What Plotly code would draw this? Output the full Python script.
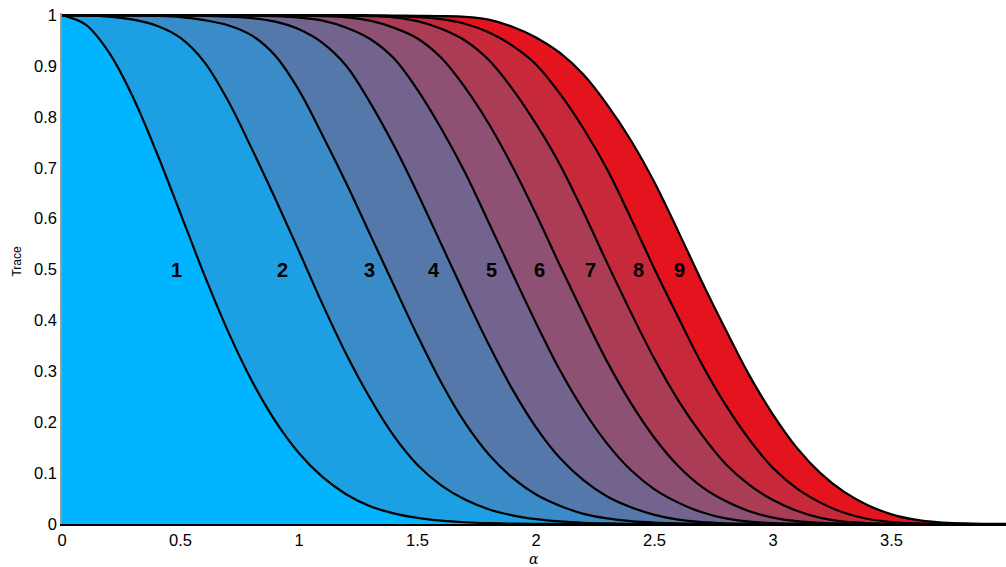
import plotly.graph_objects as go

# alpha grid shared by all curves
alpha = [round(0.1 * i, 1) for i in range(41)]  # 0.0 ... 4.0

# Trace values of the nine curves on the alpha grid
trace_1 = [1.0, 0.981, 0.925, 0.838, 0.729, 0.610, 0.490, 0.379, 0.282, 0.202,
           0.139, 0.092, 0.058, 0.035, 0.021, 0.012, 0.0065, 0.0034, 0.0017, 0.0008,
           0.0004, 0.0002, 0.0001, 0, 0, 0, 0, 0, 0, 0,
           0, 0, 0, 0, 0, 0, 0, 0, 0, 0, 0]
trace_2 = [1.0, 0.9995, 0.997, 0.991, 0.979, 0.955, 0.908, 0.832, 0.738, 0.639,
           0.536, 0.431, 0.333, 0.247, 0.173, 0.116, 0.076, 0.048, 0.029, 0.017,
           0.0095, 0.005, 0.0025, 0.0012, 0.0005, 0.0002, 0.0001, 0, 0, 0,
           0, 0, 0, 0, 0, 0, 0, 0, 0, 0, 0]
trace_3 = [1.0, 1.0, 1.0, 0.9995, 0.9985, 0.996, 0.990, 0.980, 0.960, 0.920,
           0.852, 0.763, 0.669, 0.569, 0.469, 0.370, 0.278, 0.199, 0.137, 0.091,
           0.058, 0.036, 0.020, 0.011, 0.0055, 0.0026, 0.0011, 0.0005, 0.0002, 0.0001,
           0, 0, 0, 0, 0, 0, 0, 0, 0, 0, 0]
trace_4 = [1.0, 1.0, 1.0, 1.0, 1.0, 0.9995, 0.999, 0.997, 0.994, 0.987,
           0.972, 0.945, 0.900, 0.828, 0.744, 0.650, 0.550, 0.450, 0.353, 0.265,
           0.190, 0.130, 0.086, 0.054, 0.033, 0.018, 0.0085, 0.0038, 0.0015, 0.0006,
           0.0002, 0.0001, 0, 0, 0, 0, 0, 0, 0, 0, 0]
trace_5 = [1.0, 1.0, 1.0, 1.0, 1.0, 1.0, 1.0, 0.9995, 0.999, 0.998,
           0.995, 0.989, 0.975, 0.953, 0.915, 0.853, 0.777, 0.691, 0.593, 0.493,
           0.395, 0.303, 0.224, 0.158, 0.106, 0.068, 0.042, 0.023, 0.011, 0.0048,
           0.0019, 0.0007, 0.0003, 0.0001, 0, 0, 0, 0, 0, 0, 0]
trace_6 = [1.0, 1.0, 1.0, 1.0, 1.0, 1.0, 1.0, 1.0, 1.0, 0.9995,
           0.999, 0.998, 0.9955, 0.989, 0.975, 0.954, 0.916, 0.858, 0.787, 0.703,
           0.609, 0.509, 0.412, 0.319, 0.238, 0.169, 0.114, 0.073, 0.045, 0.025,
           0.0125, 0.0055, 0.0023, 0.0009, 0.0003, 0.0001, 0, 0, 0, 0, 0]
trace_7 = [1.0, 1.0, 1.0, 1.0, 1.0, 1.0, 1.0, 1.0, 1.0, 1.0,
           1.0, 0.9995, 0.999, 0.998, 0.9955, 0.988, 0.973, 0.950, 0.912, 0.855,
           0.786, 0.707, 0.613, 0.513, 0.416, 0.324, 0.243, 0.175, 0.118, 0.077,
           0.047, 0.026, 0.012, 0.0045, 0.0016, 0.0006, 0.0002, 0.0001, 0, 0, 0]
trace_8 = [1.0, 1.0, 1.0, 1.0, 1.0, 1.0, 1.0, 1.0, 1.0, 1.0,
           1.0, 1.0, 0.9995, 0.999, 0.998, 0.996, 0.992, 0.983, 0.966, 0.940,
           0.903, 0.846, 0.777, 0.697, 0.601, 0.501, 0.406, 0.314, 0.234, 0.166,
           0.110, 0.070, 0.042, 0.022, 0.0098, 0.0038, 0.0013, 0.0004, 0.0001, 0, 0]
trace_9 = [1.0, 1.0, 1.0, 1.0, 1.0, 1.0, 1.0, 1.0, 1.0, 1.0,
           1.0, 1.0, 1.0, 0.9995, 0.999, 0.9985, 0.998, 0.9965, 0.991, 0.977,
           0.956, 0.926, 0.883, 0.824, 0.754, 0.671, 0.575, 0.476, 0.382, 0.292,
           0.215, 0.150, 0.100, 0.063, 0.037, 0.019, 0.0085, 0.0033, 0.0012, 0.0004, 0.0001]

curves = [trace_1, trace_2, trace_3, trace_4, trace_5, trace_6, trace_7, trace_8, trace_9]

# Fill colour of the band under each curve (light blue -> red)
band_colors = ["#00b4ff", "#1ca0e3", "#398cc7", "#5578ab", "#72648f",
               "#8e5073", "#aa3c56", "#c7283a", "#e3141e"]

# Curve labels and where they sit
label_text = ["1", "2", "3", "4", "5", "6", "7", "8", "9"]
label_alpha = [0.483, 0.932, 1.297, 1.568, 1.814, 2.013, 2.229, 2.432, 2.606]
label_trace = 0.5

x_tick_vals = [0, 0.5, 1, 1.5, 2, 2.5, 3, 3.5]
x_tick_text = ["0", "0.5", "1", "1.5", "2", "2.5", "3", "3.5"]
y_tick_vals = [0, 0.1, 0.2, 0.3, 0.4, 0.5, 0.6, 0.7, 0.8, 0.9, 1]
y_tick_text = ["0", "0.1", "0.2", "0.3", "0.4", "0.5", "0.6", "0.7", "0.8", "0.9", "1"]

FONT = "Liberation Sans, Arial, sans-serif"

fig = go.Figure()
for i, ys in enumerate(curves):
    fig.add_trace(go.Scatter(
        x=alpha, y=ys,
        mode="lines",
        line=dict(color="black", width=2.2, shape="spline", smoothing=1.0),
        fill="tozeroy" if i == 0 else "tonexty",
        fillcolor=band_colors[i],
        hoverinfo="skip",
        showlegend=False,
    ))

for t, a in zip(label_text, label_alpha):
    fig.add_annotation(x=a, y=label_trace, text="<b>%s</b>" % t, showarrow=False,
                       font=dict(family=FONT, size=20, color="black"))

# Axis titles
fig.add_annotation(xref="paper", yref="paper", x=-0.048, y=0.515, text="Trace",
                   textangle=-90, showarrow=False, xanchor="center", yanchor="middle",
                   font=dict(family=FONT, size=12, color="black"))
fig.add_annotation(xref="paper", yref="paper", x=0.5, y=-0.068, text="<i>α</i>",
                   showarrow=False, xanchor="center", yanchor="middle",
                   font=dict(family="DejaVu Serif, serif", size=14, color="black"))

fig.update_layout(
    width=1006, height=567,
    margin=dict(l=62, r=0, t=13, b=43),
    paper_bgcolor="white", plot_bgcolor="white",
    font=dict(family=FONT, color="black"),
    xaxis=dict(range=[0, 3.983], tickvals=x_tick_vals, ticktext=x_tick_text,
               showgrid=False, zeroline=False, showline=True, linecolor="black", linewidth=1.5,
               ticks="", tickfont=dict(size=16.5)),
    yaxis=dict(range=[0, 1.004], tickvals=y_tick_vals, ticktext=y_tick_text,
               showgrid=False, zeroline=False, showline=True, linecolor="#9a9a9a", linewidth=1.5,
               ticks="", tickfont=dict(size=16.5)),
)

fig.write_html("out.html")
